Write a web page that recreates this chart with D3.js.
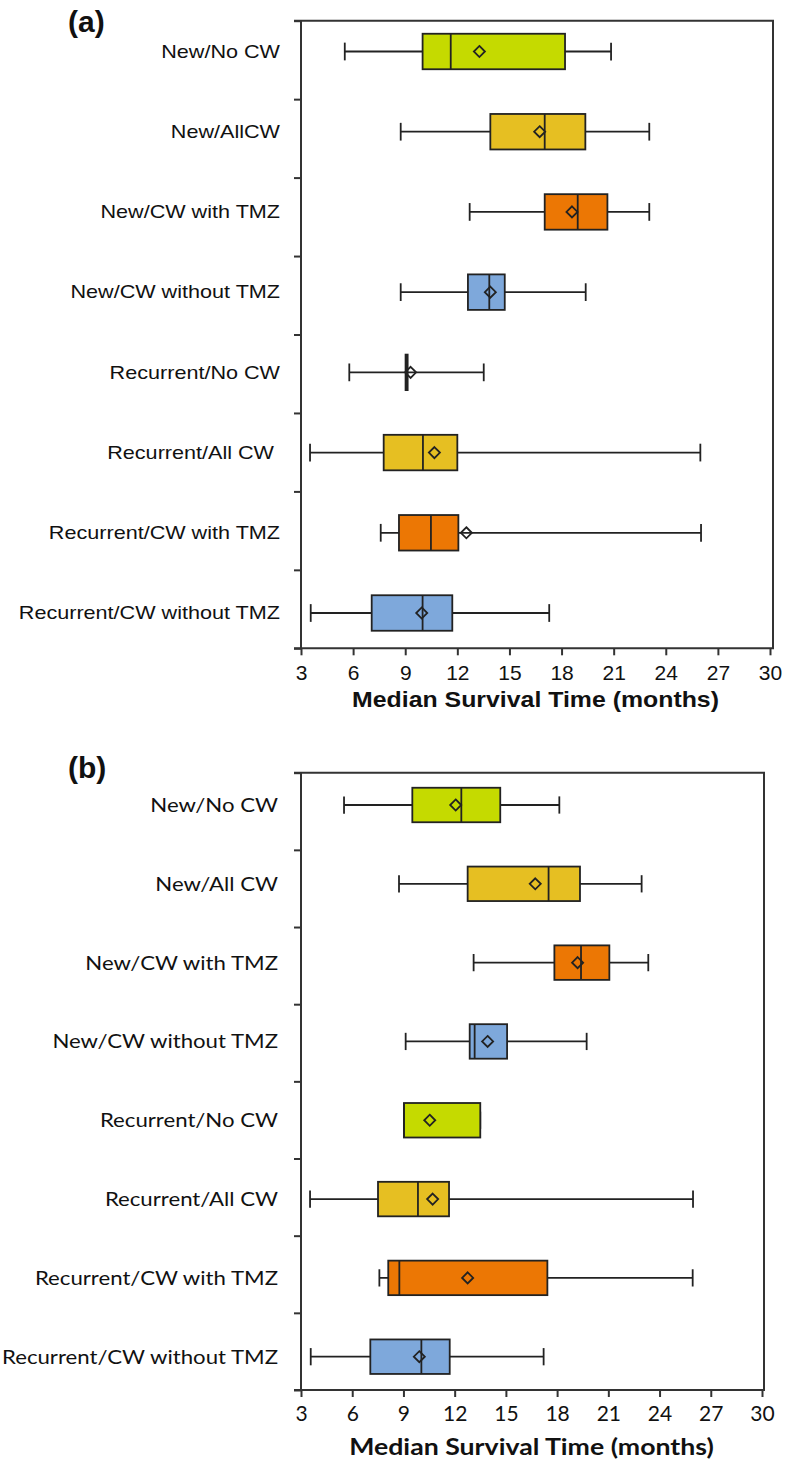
<!DOCTYPE html>
<html>
<head>
<meta charset="utf-8">
<script src="https://cdn.jsdelivr.net/npm/d3@7"></script>
<style>
  body { margin: 0; background: #fff; }
  svg { display: block; }
</style>
</head>
<body>
<svg id="chart" width="786" height="1464"></svg>
<script>
// category labels (panel a has its own spelling)
const labelsA = ["New/No CW", "New/AllCW", "New/CW with TMZ", "New/CW without TMZ",
  "Recurrent/No CW", "Recurrent/All CW ", "Recurrent/CW with TMZ", "Recurrent/CW without TMZ"];
const labelsB = ["New/No CW", "New/All CW", "New/CW with TMZ", "New/CW without TMZ",
  "Recurrent/No CW", "Recurrent/All CW", "Recurrent/CW with TMZ", "Recurrent/CW without TMZ"];
const treatment = ["No CW", "All CW", "CW with TMZ", "CW without TMZ",
  "No CW", "All CW", "CW with TMZ", "CW without TMZ"];

const xTicks = [3, 6, 9, 12, 15, 18, 21, 24, 27, 30];

// panel (a) values, months
const lowA  = [5.52, 8.74, 12.71, 8.74, 5.78, 3.52, 7.59, 3.56];
const q1A   = [10.0, 13.9, 17.03, 12.61, 9.02, 7.76, 8.64, 7.07];
const medA  = [11.62, 17.03, 18.93, 13.84, 9.08, 10.02, 10.48, 10.0];
const q3A   = [18.2, 19.37, 20.64, 14.73, 9.14, 12.0, 12.06, 11.71];
const highA = [20.85, 23.05, 23.05, 19.39, 13.52, 25.99, 26.03, 17.29];
const meanA = [13.27, 16.74, 18.6, 13.9, 9.31, 10.68, 12.52, 9.95];

// panel (b) values, months
const lowB  = [5.52, 8.74, 13.11, 9.13, 9.03, 3.53, 7.59, 3.57];
const q1B   = [9.52, 12.76, 17.84, 12.88, 9.03, 7.51, 8.11, 7.06];
const medB  = [12.39, 17.5, 19.4, 13.17, 9.03, 9.85, 8.76, 10.05];
const q3B   = [14.67, 19.34, 21.06, 15.07, 13.5, 11.67, 17.43, 11.71];
const highB = [18.13, 22.95, 23.34, 19.73, 13.5, 25.96, 25.94, 17.21];
const meanB = [12.06, 16.72, 19.2, 13.93, 10.54, 10.71, 12.76, 9.93];

const color = d3.scaleOrdinal()
  .domain(["No CW", "All CW", "CW with TMZ", "CW without TMZ"])
  .range(["#c5da00", "#e6bf22", "#ec7704", "#7ea8db"]);

const svg = d3.select('#chart');
const ink = "#222";

function drawPanel(opt) {
  const g = svg.append('g');
  const rows = opt.labels.map((l, i) => ({
    label: l, t: treatment[i],
    low: opt.low[i], q1: opt.q1[i], med: opt.med[i], q3: opt.q3[i], high: opt.high[i], mean: opt.mean[i]
  }));

  const x = d3.scaleLinear().domain([3, 30]).range([opt.left, opt.xEnd]);
  const yc = d3.scalePoint().domain(opt.labels).range([opt.firstC, opt.lastC]);
  const yt = d3.scaleLinear().domain([0, opt.labels.length]).range([opt.top, opt.bottom]);

  // frame
  g.append('path')
    .attr('d', `M${opt.left - 7},${opt.top}H${opt.right}V${opt.bottom}H${opt.left - 7}M${opt.left},${opt.top}V${opt.bottom}`)
    .attr('fill', 'none').attr('stroke', '#333').attr('stroke-width', 2);

  // y ticks between groups
  const ya = g.append('g').attr('transform', `translate(${opt.left},0)`)
    .call(d3.axisLeft(yt).ticks(8).tickSize(7).tickFormat(''));
  ya.select('.domain').remove();
  ya.selectAll('line').attr('stroke', '#333').attr('stroke-width', 2);

  // x axis
  const xa = g.append('g').attr('transform', `translate(0,${opt.bottom})`)
    .call(d3.axisBottom(x).tickValues(xTicks).tickSize(7).tickPadding(8));
  xa.select('.domain').remove();
  xa.selectAll('line').attr('stroke', '#333').attr('stroke-width', 2);
  xa.selectAll('text').attr('font-family', opt.font).attr('font-size', opt.tickSize)
    .attr('fill', '#111').attr('dy', null).attr('y', opt.tickY);

  // category labels
  g.selectAll('.lab').data(rows).join('text')
    .attr('class', 'lab')
    .attr('transform', d => `translate(${opt.labelX},${yc(d.label)}) scale(${opt.labelStretch},1)`)
    .attr('text-anchor', 'end').attr('dy', '0.35em')
    .attr('font-family', opt.font).attr('font-size', opt.labelSize).attr('fill', '#111')
    .style('white-space', 'pre')
    .text(d => d.label);

  const h = opt.boxH;
  const box = g.selectAll('.box').data(rows).join('g').attr('class', 'box')
    .attr('transform', d => `translate(0,${yc(d.label)})`);

  box.append('line')
    .attr('x1', d => x(d.low)).attr('x2', d => x(d.high))
    .attr('stroke', ink).attr('stroke-width', 1.8);
  box.append('line')
    .attr('x1', d => x(d.low)).attr('x2', d => x(d.low))
    .attr('y1', -h / 4).attr('y2', h / 4)
    .attr('stroke', ink).attr('stroke-width', 1.8);
  box.append('line')
    .attr('x1', d => x(d.high)).attr('x2', d => x(d.high))
    .attr('y1', -h / 4).attr('y2', h / 4)
    .attr('stroke', ink).attr('stroke-width', 1.8);
  box.append('rect')
    .attr('x', d => x(d.q1)).attr('width', d => x(d.q3) - x(d.q1))
    .attr('y', -h / 2).attr('height', h)
    .attr('fill', d => color(d.t))
    .attr('stroke', ink).attr('stroke-width', 1.8);
  box.append('line')
    .attr('x1', d => x(d.med)).attr('x2', d => x(d.med))
    .attr('y1', -h / 2).attr('y2', h / 2)
    .attr('stroke', ink).attr('stroke-width', 1.8);
  box.append('path')
    .attr('d', d3.symbol(d3.symbolDiamond2, 78))
    .attr('transform', d => `translate(${x(d.mean)},0)`)
    .attr('fill', 'none').attr('stroke', ink).attr('stroke-width', 1.8);

  // panel letter + axis title
  g.append('text')
    .attr('x', 68).attr('y', opt.letterY)
    .attr('font-family', 'Liberation Sans, Arial, sans-serif').attr('font-weight', 'bold')
    .attr('font-size', 30).attr('fill', '#111')
    .text(opt.letter);
  g.append('text')
    .attr('transform', `translate(${(opt.left + opt.xEnd) / 2},${opt.titleY}) scale(${opt.titleStretch},1)`)
    .attr('text-anchor', 'middle')
    .attr('font-family', opt.font).attr('font-weight', 'bold')
    .attr('font-size', opt.titleSize).attr('fill', '#111')
    .text('Median Survival Time (months)');
}

drawPanel({
  letter: '(a)', letterY: 32, labels: labelsA,
  low: lowA, q1: q1A, med: medA, q3: q3A, high: highA, mean: meanA,
  left: 301, xEnd: 770, right: 773, top: 20.7, bottom: 648.3,
  firstC: 51.5, lastC: 613, boxH: 35.5,
  font: 'Liberation Sans, Arial, sans-serif',
  labelX: 280, labelSize: 18, labelStretch: 1.2,
  tickSize: 21, tickY: 32, titleY: 707, titleSize: 22, titleStretch: 1.13
});

drawPanel({
  letter: '(b)', letterY: 778, labels: labelsB,
  low: lowB, q1: q1B, med: medB, q3: q3B, high: highB, mean: meanB,
  left: 301, xEnd: 762, right: 764, top: 772.7, bottom: 1390,
  firstC: 805, lastC: 1356.7, boxH: 34.5,
  font: 'Century Gothic, URW Gothic, Lato, sans-serif',
  labelX: 278, labelSize: 20, labelStretch: 1.11,
  tickSize: 21, tickY: 31, titleY: 1455, titleSize: 23, titleStretch: 1.16
});
</script>
</body>
</html>
